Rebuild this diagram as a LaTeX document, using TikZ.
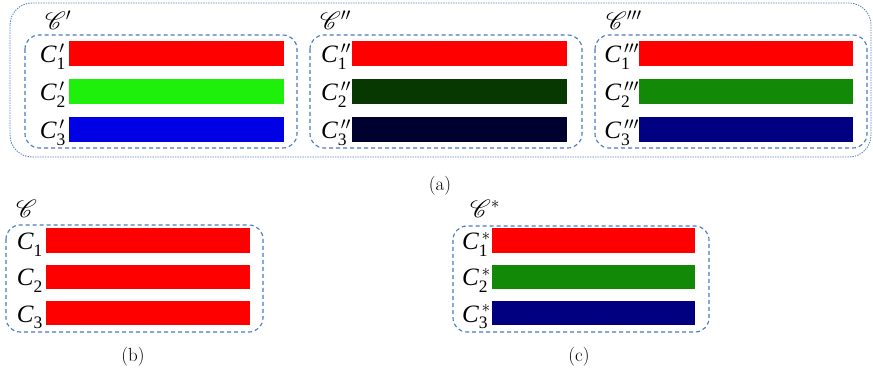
\documentclass[tikz,border=0pt]{standalone}
\usepackage{fontspec}
\usepackage{amsmath}
\usepackage{mathrsfs}
\newfontfamily\tms{Liberation Serif}
\definecolor{boxblue}{RGB}{72,122,192}
\definecolor{outblue}{RGB}{85,130,195}
\definecolor{bgreen}{RGB}{30,240,12}
\definecolor{bblue}{RGB}{0,0,228}
\definecolor{dgreen}{RGB}{8,56,2}
\definecolor{dnavy}{RGB}{0,0,48}
\definecolor{mgreen}{RGB}{18,138,8}
\definecolor{navy}{RGB}{0,0,128}
\definecolor{bred}{RGB}{255,0,0}
\newcommand\clab[2]{\tms\itshape C$_{\text{\tms\upshape #1}}^{\,#2}$}
\begin{document}
\begin{tikzpicture}[x=1pt,y=-1pt,
  grp/.style={draw=boxblue, line width=1.1pt, dash pattern=on 4pt off 3pt, rounded corners=14pt},
  outer/.style={draw=outblue, line width=0.9pt, dash pattern=on 1.3pt off 1.2pt, rounded corners=22pt},
  lab/.style={anchor=base east, inner sep=0pt, font=\fontsize{25}{27}\selectfont},
  setl/.style={anchor=base west, inner sep=0pt, font=\fontsize{27}{29}\selectfont},
  capt/.style={inner sep=0pt, font=\fontsize{19}{21}\selectfont}]
\useasboundingbox (0,0) rectangle (873,374);
% (a)
\draw[outer] (10,3) rectangle (871,157);
\draw[grp] (25,35) rectangle (297,148);
\draw[grp] (310,35) rectangle (582,148);
\draw[grp] (595,35) rectangle (867,148);
\node[setl] (s1) at (45,30) {$\mathscr{C}'$};
\node[setl] (s2) at (320,30) {$\mathscr{C}''$};
\node[setl] (s3) at (606,30) {$\mathscr{C}'''$};
% panel a1
\fill[bred]   (69,41) rectangle (284,66);
\fill[bgreen] (69,79) rectangle (284,104);
\fill[bblue]  (69,117) rectangle (284,142);
\node[lab] (a11) at (66,63) {\clab{1}{\prime}};
\node[lab] (a12) at (66,101) {\clab{2}{\prime}};
\node[lab] (a13) at (66,139) {\clab{3}{\prime}};
% panel a2
\fill[bred]   (352,41) rectangle (567,66);
\fill[dgreen] (352,79) rectangle (567,104);
\fill[dnavy]  (352,117) rectangle (567,142);
\node[lab] (a21) at (351,63) {\clab{1}{\prime\prime}};
\node[lab] (a22) at (351,101) {\clab{2}{\prime\prime}};
\node[lab] (a23) at (351,139) {\clab{3}{\prime\prime}};
% panel a3
\fill[bred]   (639,41) rectangle (853,66);
\fill[mgreen] (639,79) rectangle (853,104);
\fill[navy]   (639,117) rectangle (853,142);
\node[lab] (a31) at (639,63) {\clab{1}{\prime\prime\prime}};
\node[lab] (a32) at (639,101) {\clab{2}{\prime\prime\prime}};
\node[lab] (a33) at (639,139) {\clab{3}{\prime\prime\prime}};
\node[capt] (ca) at (440,186) {(a)};
% (b)
\draw[grp] (6,225) rectangle (263,332);
\node[setl] (sb) at (16,218) {$\mathscr{C}$};
\fill[bred] (46,228) rectangle (250,253);
\fill[bred] (46,265) rectangle (250,289);
\fill[bred] (46,301) rectangle (250,325);
\node[lab] (b1) at (43,250) {\clab{1}{}};
\node[lab] (b2) at (43,286) {\clab{2}{}};
\node[lab] (b3) at (43,322) {\clab{3}{}};
\node[capt] (cb) at (133,357) {(b)};
% (c)
\draw[grp] (453,226) rectangle (709,332);
\node[setl] (sc) at (470,218) {$\mathscr{C}^{*}$};
\fill[bred]   (492,228) rectangle (695,253);
\fill[mgreen] (492,265) rectangle (695,289);
\fill[navy]   (492,301) rectangle (695,325);
\node[lab] (c1) at (491,250) {\clab{1}{*}};
\node[lab] (c2) at (491,286) {\clab{2}{*}};
\node[lab] (c3) at (491,322) {\clab{3}{*}};
\node[capt] (cc) at (579,357) {(c)};
\end{tikzpicture}
\end{document}
